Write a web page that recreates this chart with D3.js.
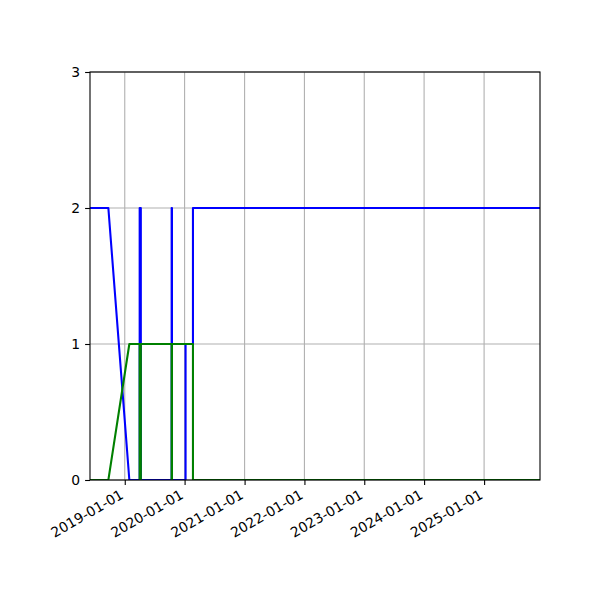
<!DOCTYPE html>
<html>
<head>
<meta charset="utf-8">
<script src="https://cdn.jsdelivr.net/npm/d3@7"></script>
<style>
  body { margin: 0; background: #fff; }
  svg { font-family: "DejaVu Sans", sans-serif; }
</style>
</head>
<body>
<svg id="chart"></svg>
<script>
// sample dates shared by both series (steps use repeated dates)
const dates = [
  "2018-06-03", "2018-09-23", "2019-01-29",
  "2019-04-02", "2019-04-02", "2019-04-09", "2019-04-09",
  "2019-10-14", "2019-10-14", "2019-10-16", "2019-10-16",
  "2020-01-07", "2020-01-07", "2020-02-21", "2020-02-21",
  "2025-12-08"
];
const blueValues  = [2, 2, 0, 0, 2, 2, 0, 0, 2, 2, 0, 0, 1, 1, 2, 2];
const greenValues = [0, 0, 1, 1, 0, 0, 1, 1, 0, 0, 1, 1, 1, 1, 0, 0];
const xTickDates = ["2019-01-01", "2020-01-01", "2021-01-01", "2022-01-01",
                    "2023-01-01", "2024-01-01", "2025-01-01"];
const yTicks = [0, 1, 2, 3];
const xDomain = ["2018-06-03", "2025-12-08"];

const parse = d3.utcParse("%Y-%m-%d");

let margin = { top: 72, right: 60, bottom: 120, left: 90 },
    width = 600 - margin.left - margin.right,
    height = 600 - margin.top - margin.bottom;

let svg = d3.select("#chart")
    .attr("width", 600)
    .attr("height", 600);

let g = svg.append("g")
    .attr("transform", "translate(" + margin.left + "," + margin.top + ")");

let xScale = d3.scaleUtc()
    .domain(xDomain.map(parse))
    .range([0, width]);

let yScale = d3.scaleLinear()
    .domain([0, 3])
    .range([height, 0]);

g.append("clipPath").attr("id", "plot-clip")
    .append("rect").attr("width", width).attr("height", height);

// grid
g.append("g").selectAll("line")
    .data(xTickDates)
    .enter().append("line")
    .attr("x1", d => xScale(parse(d))).attr("x2", d => xScale(parse(d)))
    .attr("y1", 0).attr("y2", height)
    .attr("stroke", "#b0b0b0").attr("stroke-width", 1.1);

g.append("g").selectAll("line")
    .data(yTicks)
    .enter().append("line")
    .attr("x1", 0).attr("x2", width)
    .attr("y1", d => yScale(d)).attr("y2", d => yScale(d))
    .attr("stroke", "#b0b0b0").attr("stroke-width", 1.1);

// lines
let line = d3.line()
    .x(d => xScale(d.date))
    .y(d => yScale(d.value));

const series = [
  { values: blueValues, color: "#0000ff" },
  { values: greenValues, color: "#008000" }
];

series.forEach(s => {
    let data = dates.map((d, i) => ({ date: parse(d), value: s.values[i] }));
    g.append("path")
        .datum(data)
        .attr("clip-path", "url(#plot-clip)")
        .attr("fill", "none")
        .attr("stroke", s.color)
        .attr("stroke-width", 2.08)
        .attr("stroke-linejoin", "round")
        .attr("d", line);
});

// axes
let xAxis = g.append("g")
    .attr("transform", "translate(0," + height + ")")
    .call(d3.axisBottom(xScale)
        .tickValues(xTickDates.map(parse))
        .tickFormat(d3.utcFormat("%Y-%m-%d"))
        .tickSizeInner(4.9).tickSizeOuter(0).tickPadding(4.9))
    .attr("font-family", "DejaVu Sans");

xAxis.select(".domain").remove();
xAxis.selectAll(".tick line").attr("stroke", "#000").attr("stroke-width", 1.1);
xAxis.selectAll(".tick text")
    .attr("font-size", 13.9)
    .attr("fill", "#000")
    .attr("text-anchor", "end")
    .attr("dy", null)
    .attr("y", null)
    .attr("transform", "translate(-6,8.5) rotate(-30)")
    .attr("dominant-baseline", "hanging");

let yAxis = g.append("g")
    .call(d3.axisLeft(yScale)
        .tickValues(yTicks)
        .tickFormat(d3.format("d"))
        .tickSizeInner(4.9).tickSizeOuter(0).tickPadding(4.9))
    .attr("font-family", "DejaVu Sans");

yAxis.select(".domain").remove();
yAxis.selectAll(".tick line").attr("stroke", "#000").attr("stroke-width", 1.1);
yAxis.selectAll(".tick text")
    .attr("font-size", 13.9)
    .attr("fill", "#000");

// spines
g.append("rect")
    .attr("width", width).attr("height", height)
    .attr("fill", "none")
    .attr("stroke", "#000")
    .attr("stroke-width", 1.1);
</script>
</body>
</html>
